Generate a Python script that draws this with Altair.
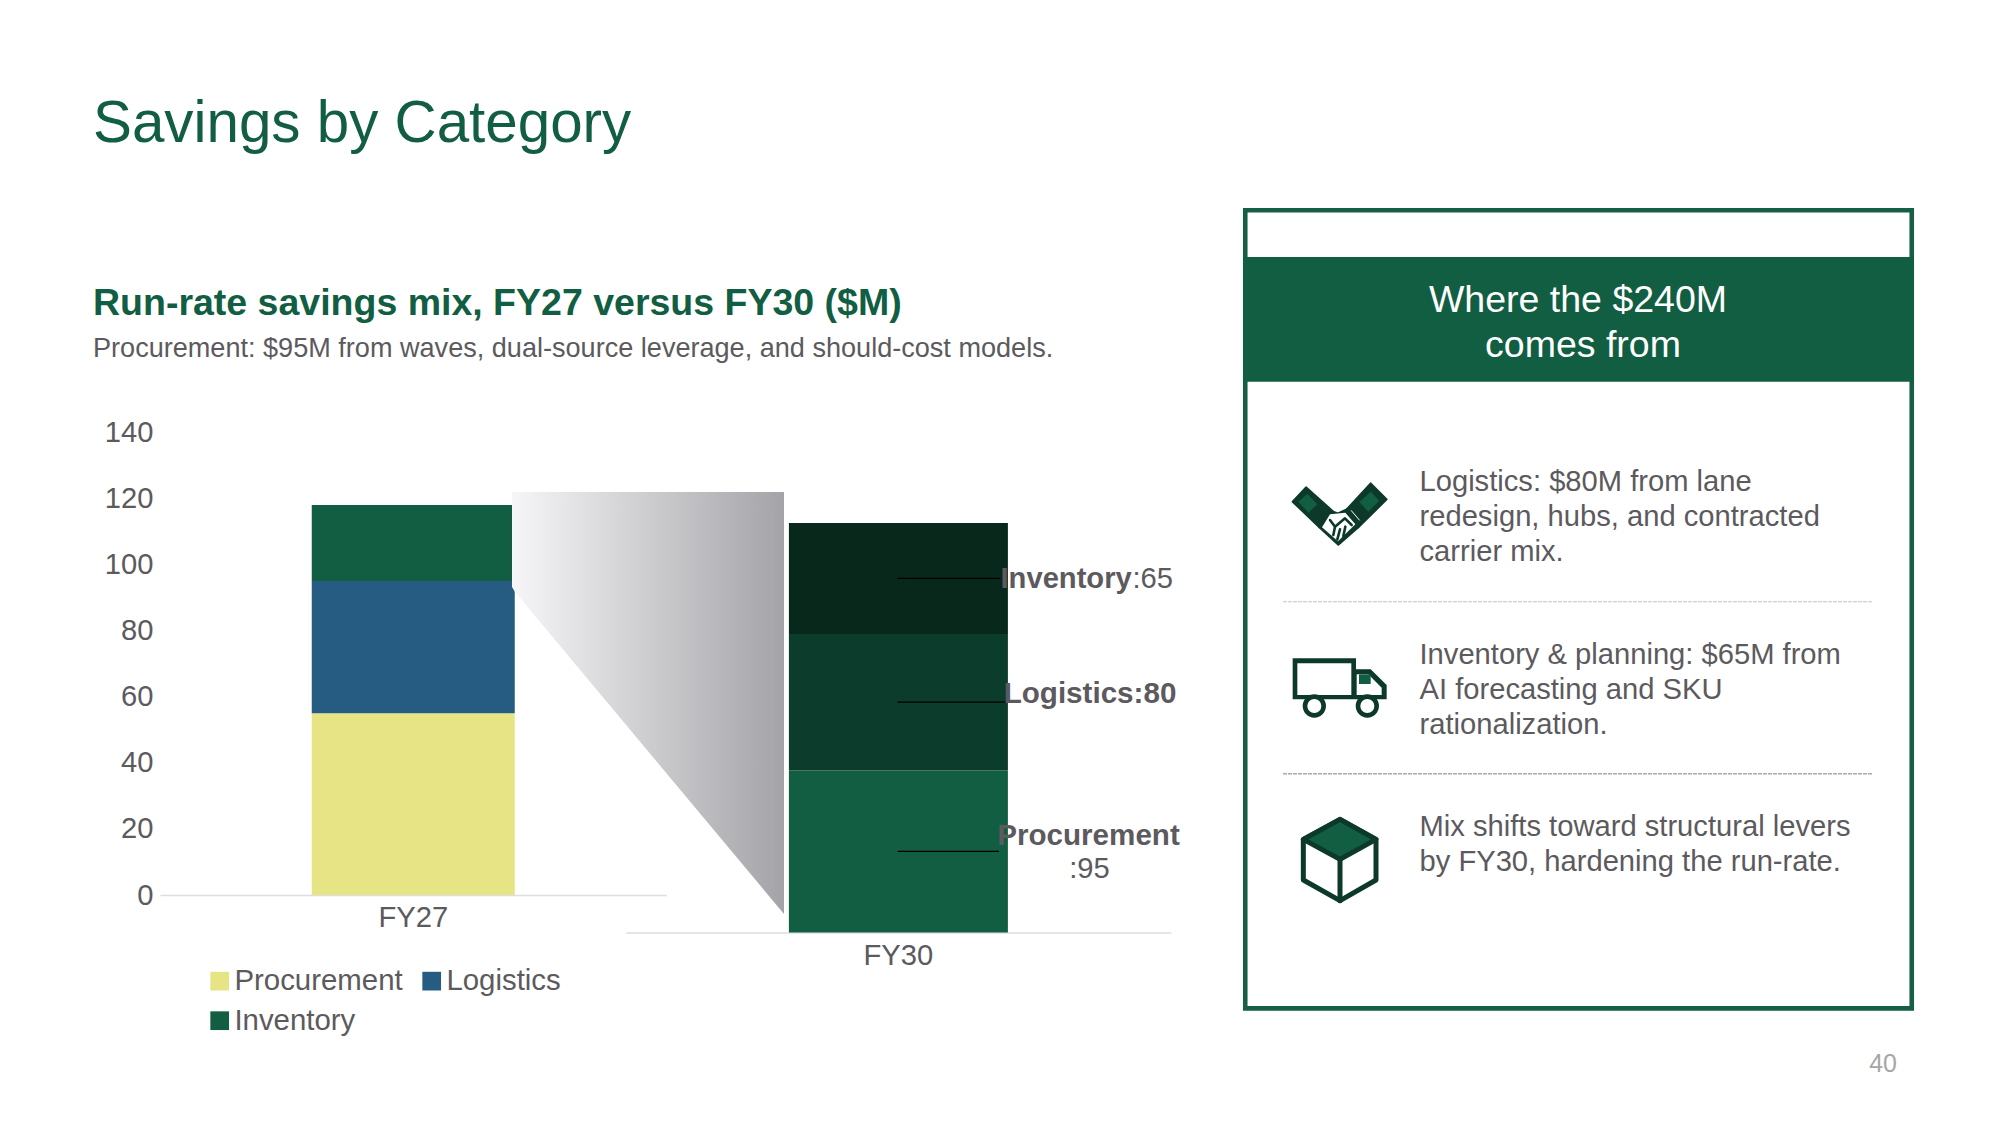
"""Savings by Category slide, drawn as one page-sized layered Altair chart."""

import altair as alt
import pandas as pd

# chart values
periods = ["FY27", "FY30"]
categories = ["Procurement", "Logistics", "Inventory"]
fy27_values = [55, 40, 23]
fy30_values = [95, 80, 65]
y_ticks = [0, 20, 40, 60, 80, 100, 120, 140]

# slide text
title = "Savings by Category"
heading = "Run-rate savings mix, FY27 versus FY30 ($M)"
subheading = "Procurement: $95M from waves, dual-source leverage, and should-cost models."
panel_title = ["Where the $240M", "comes from"]
panel_rows = [
    ["Logistics: $80M from lane", "redesign, hubs, and contracted", "carrier mix."],
    ["Inventory & planning: $65M from", "AI forecasting and SKU", "rationalization."],
    ["Mix shifts toward structural levers", "by FY30, hardening the run-rate."],
]
page_number = "40"

FONT = "Liberation Sans"
GREEN = "#115E43"
FRAME = "#165F46"
MID = "#0C3C2B"
DARK = "#09281C"
ICON = "#0D392A"
GREY = "#5C5A5E"
AXIS_LINE = "#DEDDDF"
BODY = 29.17
W, H = 1985, 1109

blank = alt.Data(values=[{"a": 0}])


def text(s, x, y, size=BODY, color=GREY, weight="normal", align="left", baseline="middle"):
    # x and y are page pixels, the page has an 8px margin
    return alt.Chart(blank).mark_text(
        font=FONT, fontSize=size, color=color, fontWeight=weight, align=align, baseline=baseline,
    ).encode(x=alt.value(x - 8), y=alt.value(y - 8), text=alt.value(s))


def box(x0, x1, y0, y1, **style):
    return alt.Chart(blank).mark_rect(**style).encode(
        x=alt.value(x0 - 8), x2=alt.value(x1 - 8), y=alt.value(y0 - 8), y2=alt.value(y1 - 8),
    )


def glyph(path, ox=0, oy=0, k=1.0, fill="white", stroke=ICON, width=0, **style):
    # a custom symbol path is scaled by sqrt(size)/2, so size=4k^2 draws it at k px per unit
    return alt.Chart(blank).mark_point(
        shape=path, size=4 * k * k, filled=True, fill=fill, stroke=stroke, strokeWidth=width,
        opacity=1, strokeJoin="round", strokeCap="round", **style,
    ).encode(x=alt.value(ox - 8), y=alt.value(oy - 8))


def divider(y, color, width):
    return alt.Chart(blank).mark_rule(color=color, strokeWidth=width, strokeDash=[4, 1]).encode(
        x=alt.value(1283 - 8), x2=alt.value(1873 - 8), y=alt.value(y - 8),
    )


def axis_label_style():
    return dict(labelFont=FONT, labelFontSize=BODY, labelColor=GREY, ticks=False, tickSize=0, grid=False)


# FY27 stacked bar with the value axis and the legend
fy27 = pd.DataFrame({
    "period": periods[0], "category": categories, "value": fy27_values, "rank": [0, 1, 2],
})
fy27_y = alt.Scale(domain=[0, 140], range=[887, 424.4], nice=False)
fy27_bar = alt.Chart(fy27).mark_bar(width=203).encode(
    x=alt.X("period:N", scale=alt.Scale(domain=[periods[0]], range=[152, 658.5]),
            axis=alt.Axis(title=None, orient="bottom", offset=-222, labelAngle=0, labelPadding=8,
                          domainColor=AXIS_LINE, domainWidth=1.3, **axis_label_style())),
    y=alt.Y("value:Q", stack="zero", scale=fy27_y,
            axis=alt.Axis(title=None, orient="left", offset=-152, values=y_ticks, domain=False,
                          labelPadding=7, **axis_label_style())),
    color=alt.Color("category:N",
                    scale=alt.Scale(domain=categories, range=["#E6E484", "#265B82", GREEN]),
                    legend=alt.Legend(title=None, orient="none", legendX=197, legendY=958, columns=2,
                                      direction="horizontal", symbolType="square", symbolSize=350,
                                      symbolStrokeWidth=0, labelFont=FONT, labelFontSize=29.4,
                                      labelColor=GREY, labelLimit=400, labelOffset=0, rowPadding=9,
                                      columnPadding=14, padding=0)),
    order="rank:Q",
)

# gradient callout between the two bars
funnel = glyph(
    "M512 492 L784 492 L784 914 L515 592 L512 587 Z",
    fill=alt.LinearGradient(gradient="linear", x1=0, x2=1, y1=0, y2=0, stops=[
        alt.GradientStop(color="#F6F5F7", offset=0),
        alt.GradientStop(color="#A4A3A7", offset=1),
    ]),
    stroke="white",
)

# FY30 stacked bar, labelled through leader lines at each segment's middle
fy30 = pd.DataFrame({
    "period": periods[1], "category": categories, "value": fy30_values, "rank": [0, 1, 2],
})
fy30["middle"] = fy30["value"].cumsum() - fy30["value"] / 2
fy30_y = alt.Scale(domain=[0, 240], range=[924.5, 515], nice=False)
fy30_bar = alt.Chart(fy30).mark_bar(width=219).encode(
    x=alt.X("period:N", scale=alt.Scale(domain=[periods[1]], range=[617.8, 1163]),
            axis=alt.Axis(title=None, orient="bottom", offset=-184.5, labelAngle=0, labelPadding=9,
                          domainColor=AXIS_LINE, domainWidth=1.3, **axis_label_style())),
    y=alt.Y("value:Q", stack="zero", scale=fy30_y, axis=None),
    color=alt.Color("category:N", scale=alt.Scale(domain=categories, range=[GREEN, MID, DARK]), legend=None),
    order="rank:Q",
)


def leader(category, x1):
    row = fy30[fy30["category"] == category]
    return alt.Chart(row).mark_rule(color="#000000", strokeWidth=1.2).encode(
        y=alt.Y("middle:Q", scale=fy30_y, axis=None),
        x=alt.value(897.6 - 8), x2=alt.value(x1 - 8),
    )


value_of = dict(zip(categories, fy30_values))
fy30_labels = [
    leader("Inventory", 1000.5),
    leader("Logistics", 1005),
    leader("Procurement", 999),
    text("Inventory", 1000.5, 578.5, weight="bold"),
    text(f":{value_of['Inventory']}", 1132.5, 578.5),
    text(f"Logistics:{value_of['Logistics']}", 1090, 693.5, size=29.6, weight="bold", align="center"),
    text("Procurement", 1088.5, 836, size=29.6, weight="bold", align="center"),
    text(f":{value_of['Procurement']}", 1089.5, 869, align="center"),
]

# right-hand panel
panel = [
    box(1245.25, 1911.75, 210.25, 1008.4, fill="white", stroke=FRAME, strokeWidth=4.6),
    box(1243, 1914, 257, 381.7, fill=GREEN),
    text(panel_title[0], 1578, 301, size=37.5, color="white", align="center"),
    text(panel_title[1], 1583, 346, size=37.5, color="white", align="center"),
    divider(601.7, "#C4C3C6", 1.1),
    divider(773.7, "#A9A8AB", 1.4),
]
row_centres = [[481.7, 516.7, 551.7], [655, 690, 725], [827, 862]]
for lines, centres in zip(panel_rows, row_centres):
    panel += [text(line, 1419.5, y) for line, y in zip(lines, centres)]

# icons, paths are in 3x pixels of their own little box
hand = [
    glyph("M38 95 L78 52 L160 125 L118 172 Z", 1280, 470, 1 / 3, fill=ICON, stroke=ICON, width=2),
    glyph("M272 40 L320 88 L235 172 L200 118 Z", 1280, 470, 1 / 3, fill=ICON, stroke=ICON, width=2),
    glyph("M55 95 L82 72 L112 103 L85 128 Z", 1280, 470, 1 / 3, fill=GREEN, stroke=GREEN),
    glyph("M272 65 L298 92 L265 125 L238 96 Z", 1280, 470, 1 / 3, fill=GREEN, stroke=GREEN),
    glyph("M118 172 L150 122 L174 130 L200 118 L235 172 L175 224 Z", 1280, 470, 1 / 3, fill=ICON, stroke=ICON, width=2),
    glyph("M126 172 L150 133 L196 128 L226 163 L174 214 Z", 1280, 470, 1 / 3, fill="white", stroke="white"),
    glyph("M150 150 L165 170 L195 145 L215 165 M165 170 L160 195 M180 178 L172 208 M196 170 L190 198",
          1280, 470, 1 / 3, fill="transparent", stroke=ICON, width=2.6),
    glyph("M214 122 L238 150", 1280, 470, 1 / 3, fill="transparent", stroke="white", width=1),
]
truck = [
    glyph("M38 55 L228 55 L228 88 L272 88 L320 135 L320 178 L38 178 Z", 1280, 640, 1 / 3, fill=ICON, stroke=ICON),
    glyph("M52 70 L214 70 L214 165 L52 165 Z", 1280, 640, 1 / 3, fill="white", stroke="white"),
    glyph("M230 103 L265 103 L305 143 L305 165 L230 165 Z", 1280, 640, 1 / 3, fill="white", stroke="white"),
    glyph("M237 103 L272 103 L272 132 L237 132 Z", 1280, 640, 1 / 3, fill=GREEN, stroke=GREEN),
    glyph("M75 198 A28 28 0 1 1 131 198 A28 28 0 1 1 75 198 Z", 1280, 640, 1 / 3, stroke=ICON, width=4.6),
    glyph("M234 198 A28 28 0 1 1 290 198 A28 28 0 1 1 234 198 Z", 1280, 640, 1 / 3, stroke=ICON, width=4.6),
]
cube = [
    glyph("M150 28 L258 88 L258 210 L150 272 L40 210 L40 88 Z", 1290, 810, 1 / 3, stroke=ICON, width=5),
    glyph("M150 28 L258 88 L150 148 L40 88 Z", 1290, 810, 1 / 3, fill=GREEN, stroke=ICON, width=5),
    glyph("M150 148 L150 272", 1290, 810, 1 / 3, fill="transparent", stroke=ICON, width=5),
]

layers = [
    fy27_bar,
    funnel,
    fy30_bar,
    *fy30_labels,
    *panel,
    *hand,
    *truck,
    *cube,
    text(title, 93, 141.7, size=58.33, color=GREEN, baseline="alphabetic"),
    text(heading, 93, 315, size=37.5, color=GREEN, weight="bold", baseline="alphabetic"),
    text(subheading, 93, 356.5, size=27.08, baseline="alphabetic"),
    text(page_number, 1897, 1064, size=25, color="#A6A6A6", align="right"),
]

chart = alt.layer(*layers).resolve_scale(
    x="independent", y="independent", color="independent",
).properties(
    width=W, height=H, padding=0, background="white", autosize=alt.AutoSizeParams(type="none"),
).configure_view(stroke=None)

chart.save("out.html", embed_options={"renderer": "svg", "actions": False})
